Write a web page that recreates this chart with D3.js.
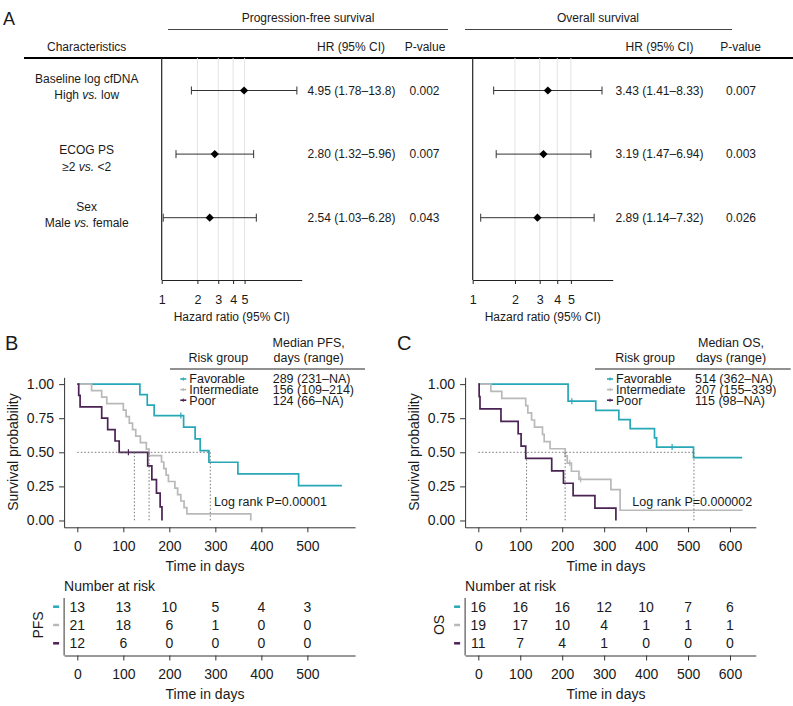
<!DOCTYPE html>
<html><head><meta charset="utf-8">
<script src="https://cdn.jsdelivr.net/npm/d3@7"></script>
<style>body{margin:0;background:#fff}svg{display:block;font-family:"Liberation Sans",Arial,sans-serif}</style>
</head><body><svg id="c" width="793" height="706"></svg>
<script>
// ---------------- DATA ----------------
const characteristics = ["Baseline log cfDNA", "ECOG PS", "Sex"];
const comparisons = [["High ", "vs.", " low"], ["≥2 ", "vs.", " <2"], ["Male ", "vs.", " female"]];
const pfsHR = [4.95, 2.80, 2.54], pfsLow = [1.78, 1.32, 1.03], pfsHigh = [13.8, 5.96, 6.28];
const pfsP = ["0.002", "0.007", "0.043"];
const osHR = [3.43, 3.19, 2.89], osLow = [1.41, 1.47, 1.14], osHigh = [8.33, 6.94, 7.32];
const osP = ["0.007", "0.003", "0.026"];
const hrTicks = [1, 2, 3, 4, 5];

const riskGroups = ["Favorable", "Intermediate", "Poor"];
const groupColors = ["#27a8b6", "#b9b9b9", "#4a2253"];

// PFS Kaplan-Meier steps (time in days, survival probability)
const pfsFavT = [0, 136, 152, 167, 231, 256, 267, 286, 349, 481, 575];
const pfsFavS = [1, 0.923, 0.846, 0.769, 0.684, 0.598, 0.513, 0.427, 0.342, 0.256, 0.256];
const pfsIntT = [0, 31, 53, 64, 100, 106, 113, 120, 127, 137, 150, 156, 183, 188, 193, 198, 212, 218, 225, 232, 238, 377];
const pfsIntS = [1, 0.952, 0.905, 0.857, 0.810, 0.762, 0.714, 0.667, 0.619, 0.571, 0.524, 0.476, 0.429, 0.381, 0.333, 0.286, 0.238, 0.190, 0.143, 0.095, 0.048, 0];
const pfsPoorT = [0, 3, 6, 53, 66, 82, 91, 153, 162, 172, 180, 184];
const pfsPoorS = [1, 0.917, 0.833, 0.75, 0.667, 0.583, 0.5, 0.4, 0.3, 0.2, 0.1, 0];
const pfsCensT = [[225], [], [111]];
const pfsCensS = [[0.769], [], [0.5]];
const pfsMedian = [289, 156, 124];
const pfsMedianText = ["289 (231–NA)", "156 (109–214)", "124 (66–NA)"];
const pfsLogRank = "Log rank P=0.00001";

// OS Kaplan-Meier steps
const osFavT = [0, 214, 280, 335, 362, 420, 425, 513, 629];
const osFavS = [1, 0.875, 0.808, 0.740, 0.673, 0.606, 0.538, 0.461, 0.461];
const osIntT = [0, 30, 56, 113, 118, 127, 134, 153, 157, 171, 207, 212, 222, 240, 316, 338, 630];
const osIntS = [1, 0.947, 0.895, 0.842, 0.789, 0.737, 0.684, 0.632, 0.579, 0.526, 0.474, 0.421, 0.361, 0.301, 0.226, 0.075, 0.075];
const osPoorT = [0, 2, 4, 54, 95, 102, 113, 175, 203, 226, 278, 328];
const osPoorS = [1, 0.909, 0.818, 0.727, 0.636, 0.545, 0.455, 0.364, 0.273, 0.182, 0.091, 0];
const osCensT = [[223, 462], [218, 244], []];
const osCensS = [[0.875, 0.538], [0.421, 0.301], []];
const osMedian = [514, 207, 115];
const osMedianText = ["514 (362–NA)", "207 (155–339)", "115 (98–NA)"];
const osLogRank = "Log rank P=0.000002";

const pfsTimeTicks = [0, 100, 200, 300, 400, 500];
const osTimeTicks = [0, 100, 200, 300, 400, 500, 600];
const survTicks = [0, 0.25, 0.5, 0.75, 1];

const pfsRisk = [[13, 13, 10, 5, 4, 3], [21, 18, 6, 1, 0, 0], [12, 6, 0, 0, 0, 0]];
const osRisk = [[16, 16, 16, 12, 10, 7, 6], [19, 17, 10, 4, 1, 1, 1], [11, 7, 4, 1, 0, 0, 0]];

// ---------------- DRAW ----------------
const svg = d3.select("#c");
svg.append("rect").attr("width", 793).attr("height", 706).attr("fill", "#fff");
const ink = "#1a1a1a";

function txt(g, x, y, s, size, anchor) {
  return g.append("text").attr("x", x).attr("y", y).attr("dy", "0.35em")
    .attr("font-size", size).attr("text-anchor", anchor || "start").attr("fill", ink).text(s);
}

// ---- Panel A ----
const A = svg.append("g");
A.append("text").attr("x", 3).attr("y", 25).attr("font-size", 18).attr("fill", ink).text("A");
txt(A, 308, 18, "Progression-free survival", 12, "middle");
txt(A, 598, 18, "Overall survival", 12, "middle");
A.append("line").attr("x1", 168).attr("x2", 448).attr("y1", 29.5).attr("y2", 29.5).attr("stroke", "#444");
A.append("line").attr("x1", 465).attr("x2", 732).attr("y1", 29.5).attr("y2", 29.5).attr("stroke", "#444");
txt(A, 86.7, 47, "Characteristics", 12, "middle");
txt(A, 351, 47, "HR (95% CI)", 12, "middle");
txt(A, 425, 47, "P-value", 12, "middle");
txt(A, 659.5, 47, "HR (95% CI)", 12, "middle");
txt(A, 740.5, 47, "P-value", 12, "middle");
A.append("line").attr("x1", 24).attr("x2", 793).attr("y1", 58).attr("y2", 58).attr("stroke", "#000").attr("stroke-width", 1.8);

const rowY = d3.scalePoint().domain([0, 1, 2]).range([90.5, 217.7]);
const labelOff = [[-11.5, 4], [-4.3, 12.4], [-11, 5]];
characteristics.forEach((c, i) => {
  txt(A, 86.7, rowY(i) + labelOff[i][0], c, 12, "middle");
  const t = A.append("text").attr("x", 86.7).attr("y", rowY(i) + labelOff[i][1]).attr("dy", "0.35em")
    .attr("font-size", 12).attr("text-anchor", "middle").attr("fill", ink);
  comparisons[i].forEach(part => {
    t.append("tspan").attr("font-style", part === "vs." ? "italic" : "normal").text(part);
  });
});

const f3 = d3.format(".3r");
function forest(x0, x1, dmax, hrX, pX, hr, lo, hi, p) {
  const x = d3.scaleLog().domain([1, dmax]).range([x0, x1]);
  const g = A.append("g");
  g.selectAll(".grid").data(hrTicks.slice(1)).join("line")
    .attr("x1", d => x(d)).attr("x2", d => x(d)).attr("y1", 58).attr("y2", 280)
    .attr("stroke", "#e3e3e3").attr("stroke-width", 1);
  g.append("line").attr("x1", x0).attr("x2", x0).attr("y1", 58).attr("y2", 280).attr("stroke", "#222").attr("stroke-width", 1.2);
  const ax = g.append("g").attr("transform", "translate(0,280)")
    .call(d3.axisBottom(x).tickValues(hrTicks).tickFormat(d3.format("d")).tickSize(4).tickSizeOuter(0).tickPadding(11));
  ax.select(".domain").attr("stroke", "#222").attr("stroke-width", 1.2);
  ax.selectAll(".tick line").attr("stroke", "#222");
  ax.selectAll("text").attr("font-size", 12.5).attr("font-family", "Liberation Sans, Arial, sans-serif").attr("fill", ink);
  txt(g, (x0 + x1) / 2, 316.7, "Hazard ratio (95% CI)", 12, "middle");
  hr.forEach((h, i) => {
    const y = rowY(i);
    g.append("line").attr("x1", x(lo[i])).attr("x2", x(hi[i])).attr("y1", y).attr("y2", y).attr("stroke", "#333").attr("stroke-width", 1);
    [lo[i], hi[i]].forEach(v => g.append("line").attr("x1", x(v)).attr("x2", x(v)).attr("y1", y - 4).attr("y2", y + 4).attr("stroke", "#333"));
    g.append("path").attr("d", d3.symbol(d3.symbolSquare, 34)())
      .attr("transform", `translate(${x(h)},${y}) rotate(45)`).attr("fill", "#000");
    txt(g, hrX, y, `${h.toFixed(2)} (${f3(lo[i])}–${f3(hi[i])})`, 12, "middle");
    txt(g, pX, y, p[i], 12, "middle");
  });
}
forest(161.7, 301.7, Math.exp(140 / 51.5), 351.5, 424.5, pfsHR, pfsLow, pfsHigh, pfsP);
forest(472.7, 612.7, Math.exp(140 / 61), 659.5, 741, osHR, osLow, osHigh, osP);

// ---- Panels B & C ----
function km(cfg) {
  const g = svg.append("g");
  const x = d3.scaleLinear().domain(cfg.domain).range([cfg.axL, cfg.axR]);
  const y = d3.scaleLinear().domain([-0.05, 1.05]).range([527.3, 377.3]);
  g.append("text").attr("x", cfg.letterX).attr("y", 350).attr("font-size", 20).attr("fill", ink).text(cfg.letter);

  // axes
  const yax = g.append("g").attr("transform", `translate(${cfg.axL},0)`)
    .call(d3.axisLeft(y).tickValues(survTicks).tickFormat(d3.format(".2f")).tickSize(5).tickSizeOuter(0).tickPadding(5));
  const xax = g.append("g").attr("transform", "translate(0,527.3)")
    .call(d3.axisBottom(x).tickValues(cfg.ticks).tickSize(5).tickSizeOuter(0).tickPadding(9));
  [yax, xax].forEach(a => {
    a.select(".domain").attr("stroke", "#333");
    a.selectAll(".tick line").attr("stroke", "#333");
    a.selectAll("text").attr("font-size", 14).attr("font-family", "Liberation Sans, Arial, sans-serif").attr("fill", ink);
  });
  g.append("text").attr("transform", `translate(${cfg.axL - 51},452) rotate(-90)`).attr("dy", "0.35em")
    .attr("text-anchor", "middle").attr("font-size", 14).attr("fill", ink).text("Survival probability");
  txt(g, cfg.titleX, 566, "Time in days", 14, "middle");

  // curves
  const line = d3.line().x(d => x(d[0])).y(d => y(d[1])).curve(d3.curveStepAfter);
  cfg.T.forEach((T, k) => {
    const pts = T.map((t, i) => [t, cfg.S[k][i]]);
    g.append("path").attr("d", line(pts)).attr("fill", "none").attr("stroke", groupColors[k]).attr("stroke-width", 1.7);
    cfg.censT[k].forEach((t, i) => {
      g.append("line").attr("x1", x(t)).attr("x2", x(t)).attr("y1", y(cfg.censS[k][i]) - 3).attr("y2", y(cfg.censS[k][i]) + 3)
        .attr("stroke", groupColors[k]).attr("stroke-width", 1.2);
    });
  });
  // median lines
  const dash = { stroke: "#666", "stroke-width": 0.9, "stroke-dasharray": "1.5,2" };
  const hl = g.append("line").attr("x1", x(0)).attr("x2", x(d3.max(cfg.median))).attr("y1", y(0.5)).attr("y2", y(0.5));
  Object.entries(dash).forEach(([k, v]) => hl.attr(k, v));
  cfg.median.forEach(m => {
    const l = g.append("line").attr("x1", x(m)).attr("x2", x(m)).attr("y1", y(0.5)).attr("y2", y(0));
    Object.entries(dash).forEach(([k, v]) => l.attr(k, v));
  });
  txt(g, cfg.lrX, 502, cfg.logRank, 12.5, "start");

  // legend
  txt(g, cfg.legX + 29, 358, "Risk group", 12.5, "middle");
  txt(g, cfg.valX + 36, 343, cfg.medianTitle, 12.5, "middle");
  txt(g, cfg.valX + 36, 358, "days (range)", 12.5, "middle");
  g.append("line").attr("x1", cfg.lineL).attr("x2", cfg.lineR).attr("y1", 369).attr("y2", 369).attr("stroke", "#222").attr("stroke-width", 1);
  riskGroups.forEach((r, k) => {
    const ly = 379 + k * 10.6;
    g.append("line").attr("x1", cfg.legX - 9).attr("x2", cfg.legX - 3).attr("y1", ly).attr("y2", ly).attr("stroke", groupColors[k]).attr("stroke-width", 1.6);
    g.append("line").attr("x1", cfg.legX - 6).attr("x2", cfg.legX - 6).attr("y1", ly - 1.6).attr("y2", ly + 1.6).attr("stroke", groupColors[k]).attr("stroke-width", 1);
    txt(g, cfg.legX, ly, r, 12.5, "start");
    txt(g, cfg.valX, ly, cfg.medianText[k], 12.5, "start");
  });

  // risk table
  txt(g, cfg.axL, 585.7, "Number at risk", 14, "start");
  const ry = d3.scalePoint().domain([0, 1, 2]).range([606.7, 643.3]);
  g.append("line").attr("x1", cfg.axL).attr("x2", cfg.axL).attr("y1", 598).attr("y2", 655.5).attr("stroke", "#333");
  const tax = g.append("g").attr("transform", "translate(0,655.5)")
    .call(d3.axisBottom(x).tickValues(cfg.ticks).tickSize(5).tickSizeOuter(0).tickPadding(9));
  tax.select(".domain").attr("stroke", "#333");
  tax.selectAll(".tick line").attr("stroke", "#333");
  tax.selectAll("text").attr("font-size", 14).attr("font-family", "Liberation Sans, Arial, sans-serif").attr("fill", ink);
  txt(g, cfg.titleX, 694.3, "Time in days", 14, "middle");
  g.append("text").attr("transform", `translate(${cfg.axL - 26},625) rotate(-90)`).attr("dy", "0.35em")
    .attr("text-anchor", "middle").attr("font-size", 14).attr("fill", ink).text(cfg.tableLabel);
  cfg.risk.forEach((row, k) => {
    g.append("line").attr("x1", cfg.axL - 11).attr("x2", cfg.axL - 5).attr("y1", ry(k)).attr("y2", ry(k))
      .attr("stroke", groupColors[k]).attr("stroke-width", 2.5);
    row.forEach((n, i) => txt(g, x(cfg.ticks[i]), ry(k), String(n), 14, "middle"));
  });
}

km({
  letter: "B", letterX: 5, domain: [-28.75, 603.75], axL: 64.1, axR: 355.1, ticks: pfsTimeTicks, titleX: 205,
  T: [pfsFavT, pfsIntT, pfsPoorT], S: [pfsFavS, pfsIntS, pfsPoorS], censT: pfsCensT, censS: pfsCensS,
  median: pfsMedian, medianText: pfsMedianText, medianTitle: "Median PFS,", logRank: pfsLogRank, lrX: 214,
  legX: 189.3, valX: 272.7, lineL: 170, lineR: 365, risk: pfsRisk, tableLabel: "PFS"
});
km({
  letter: "C", letterX: 397, domain: [-31.5, 661.5], axL: 465.1, axR: 755.8, ticks: osTimeTicks, titleX: 606,
  T: [osFavT, osIntT, osPoorT], S: [osFavS, osIntS, osPoorS], censT: osCensT, censS: osCensS,
  median: osMedian, medianText: osMedianText, medianTitle: "Median OS,", logRank: osLogRank, lrX: 632.3,
  legX: 616, valX: 695, lineL: 595, lineR: 790.7, risk: osRisk, tableLabel: "OS"
});
</script></body></html>
